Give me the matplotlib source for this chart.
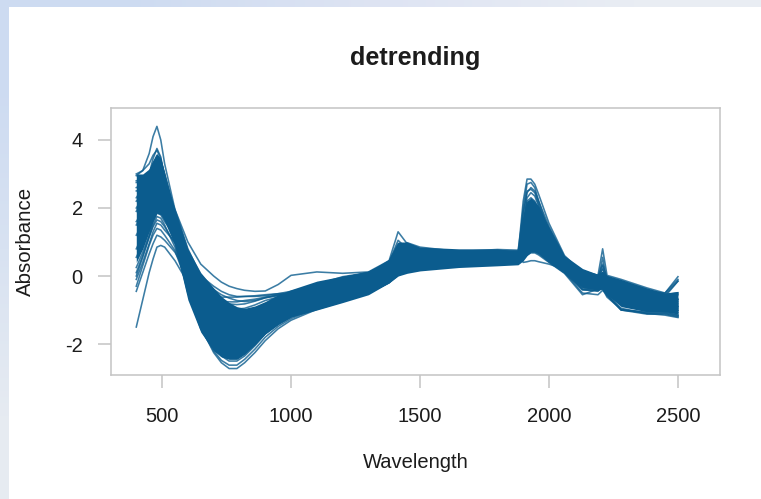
# -*- coding: utf-8 -*-
# detrended NIR spectra, redrawn from the picture
import matplotlib
matplotlib.use('Agg')
import matplotlib.pyplot as plt
import numpy as np

wavelength = [400, 425, 450, 465, 480, 495, 510,
              550, 600, 650, 700, 730, 760, 790, 820, 860, 900, 950, 1000, 1100, 1200,
              1300, 1380, 1415, 1450, 1500, 1650, 1800,
              1880, 1900, 1915, 1930, 1945, 1960, 2000,
              2060, 2130, 2190, 2208, 2225, 2280, 2380, 2450, 2500]

# the bulk of the spectra is too dense to read one by one: only its edges
core_high = [3.0, 3.0, 3.15, 3.4, 3.6, 3.45, 3.05,
             1.95, 0.8, 0.1, -0.35, -0.6, -0.78, -0.9, -0.95, -0.88, -0.75, -0.55, -0.4, -0.15, 0.0,
             0.12, 0.5, 1.0, 1.0, 0.85, 0.8, 0.8,
             0.72, 1.75, 2.2, 2.3, 2.2, 2.05, 1.45,
             0.6, 0.22, 0.05, 0.1, 0.02, -0.1, -0.35, -0.5, -0.45]
core_low = [0.4, 0.8, 1.3, 1.6, 1.85, 1.8, 1.6,
            0.9, -0.7, -1.65, -2.2, -2.38, -2.45, -2.45, -2.3, -2.02, -1.7, -1.42, -1.2, -1.0, -0.78,
            -0.55, -0.2, 0.0, 0.08, 0.15, 0.25, 0.3,
            0.33, 0.45, 0.6, 0.7, 0.7, 0.65, 0.42,
            0.12, -0.35, -0.4, -0.38, -0.55, -0.9, -1.05, -1.05, -1.12]

# spectra that stand out from the bulk
spectra = [
    [2.95, 3.1, 3.6, 4.1, 4.4, 4.0, 3.3,
     1.95, 0.8, 0.0, -0.5, -0.8, -0.98, -1.08, -1.1, -1.0, -0.82, -0.65, -0.5, -0.25, -0.02,
     0.1, 0.42, 0.9, 0.7, 0.6, 0.6, 0.62,
     0.62, 2.2, 2.85, 2.85, 2.7, 2.4, 1.55,
     0.6, 0.1, 0.0, 0.02, -0.02, -0.2, -0.42, -0.55, -0.55],
    [1.6, 1.9, 2.4, 2.8, 3.1, 3.0, 2.75,
     1.95, 1.0, 0.35, 0.0, -0.18, -0.3, -0.37, -0.42, -0.45, -0.44, -0.25, 0.02, 0.12, 0.08,
     0.12, 0.45, 1.3, 0.95, 0.75, 0.72, 0.78,
     0.76, 1.0, 1.6, 1.85, 1.75, 1.5, 1.0,
     0.5, 0.15, 0.02, 0.8, 0.02, -0.1, -0.35, -0.5, -0.1],
    [-1.5, -0.7, 0.1, 0.5, 0.85, 0.9, 0.85,
     0.45, -0.2, -0.55, -0.6, -0.62, -0.62, -0.62, -0.6, -0.58, -0.55, -0.52, -0.5, -0.35, -0.12,
     0.02, 0.25, 0.42, 0.5, 0.55, 0.6, 0.65,
     0.7, 0.4, 0.42, 0.45, 0.45, 0.42, 0.35,
     0.2, -0.15, -0.25, -0.2, -0.4, -0.7, -0.85, -0.9, -0.9],
    [-0.45, 0.1, 0.65, 0.95, 1.2, 1.15, 1.05,
     0.7, 0.0, -0.45, -0.7, -0.74, -0.76, -0.76, -0.72, -0.68, -0.62, -0.55, -0.5, -0.3, -0.1,
     0.05, 0.28, 0.48, 0.52, 0.55, 0.6, 0.65,
     0.7, 0.55, 0.7, 0.8, 0.78, 0.7, 0.42,
     0.1, -0.4, -0.45, -0.3, -0.5, -0.85, -0.95, -1.0, -0.9],
    [-0.1, 0.4, 0.95, 1.3, 1.55, 1.5, 1.35,
     1.0, 0.25, -0.35, -0.7, -0.86, -0.95, -0.97, -0.95, -0.85, -0.72, -0.62, -0.55, -0.35, -0.12,
     0.05, 0.3, 0.6, 0.62, 0.6, 0.65, 0.68,
     0.68, 0.7, 0.95, 1.05, 1.0, 0.9, 0.55,
     0.12, -0.5, -0.55, -0.42, -0.55, -1.0, -1.05, -1.05, -1.0],
    [0.25, 0.7, 1.2, 1.6, 1.85, 1.8, 1.6,
     1.2, 0.35, -0.25, -0.62, -0.74, -0.82, -0.84, -0.82, -0.74, -0.64, -0.58, -0.55, -0.35, -0.1,
     0.08, 0.35, 0.7, 0.72, 0.66, 0.68, 0.7,
     0.7, 0.9, 1.35, 1.5, 1.45, 1.3, 0.85,
     0.3, -0.1, -0.2, 0.55, -0.2, -0.5, -0.75, -0.85, -0.7],
    [0.55, 0.95, 1.4, 1.8, 2.05, 2.0, 1.8,
     1.1, -0.1, -1.05, -1.75, -2.0, -2.15, -2.18, -2.1, -1.85, -1.55, -1.32, -1.15, -0.9, -0.68,
     -0.45, -0.15, 0.1, 0.2, 0.3, 0.42, 0.45,
     0.45, 0.6, 0.85, 0.95, 0.92, 0.85, 0.55,
     0.2, -0.4, -0.42, -0.38, -0.62, -0.98, -1.1, -1.15, -1.22],
    [1.9, 2.3, 2.8, 3.2, 3.45, 3.3, 2.8,
     1.3, -0.35, -1.5, -2.25, -2.55, -2.72, -2.72, -2.55, -2.25, -1.9, -1.55, -1.3, -0.98, -0.75,
     -0.5, -0.2, 0.08, 0.15, 0.2, 0.32, 0.38,
     0.4, 1.6, 2.2, 2.3, 2.2, 1.9, 1.1,
     0.35, -0.15, -0.25, 0.3, -0.3, -0.8, -1.0, -1.05, -1.15],
    [2.3, 2.6, 3.0, 3.45, 3.75, 3.5, 2.9,
     1.2, -0.45, -1.55, -2.2, -2.48, -2.62, -2.62, -2.45, -2.15, -1.8, -1.48, -1.25, -0.95, -0.72,
     -0.5, -0.15, 0.15, 0.2, 0.25, 0.4, 0.42,
     0.45, 2.0, 2.7, 2.75, 2.6, 2.2, 1.3,
     0.45, 0.0, -0.1, 0.0, -0.15, -0.7, -0.95, -1.0, -1.08],
    [3.0, 3.1, 3.3, 3.55, 3.7, 3.45, 2.9,
     1.05, -0.5, -1.45, -2.1, -2.35, -2.5, -2.5, -2.35, -2.05, -1.7, -1.42, -1.2, -0.92, -0.7,
     -0.48, -0.12, 0.12, 0.18, 0.25, 0.38, 0.42,
     0.42, 1.8, 2.5, 2.55, 2.45, 2.1, 1.25,
     0.4, -0.05, -0.12, 0.1, -0.2, -0.75, -0.98, -1.0, -1.02],
    [1.5, 1.85, 2.3, 2.7, 2.95, 2.85, 2.6,
     1.75, 0.7, 0.0, -0.4, -0.55, -0.65, -0.72, -0.75, -0.72, -0.64, -0.56, -0.5, -0.28, -0.05,
     0.1, 0.38, 0.8, 0.98, 0.85, 0.72, 0.75,
     0.72, 0.85, 1.2, 1.3, 1.25, 1.15, 0.75,
     0.35, 0.05, -0.05, 0.1, -0.05, -0.2, -0.45, -0.5, -0.02],
    [2.6, 2.7, 2.9, 3.1, 3.3, 3.2, 2.85,
     1.7, 0.55, -0.15, -0.55, -0.78, -0.95, -1.1, -1.2, -1.15, -1.0, -0.82, -0.68, -0.35, -0.08,
     0.1, 0.4, 1.05, 0.8, 0.68, 0.66, 0.7,
     0.66, 0.9, 1.5, 1.7, 1.65, 1.5, 1.05,
     0.45, 0.05, 0.0, 0.35, -0.05, -0.2, -0.48, -0.6, -0.15],
    [2.8, 2.85, 3.05, 3.3, 3.5, 3.35, 2.95,
     1.5, 0.1, -0.9, -1.6, -1.85, -2.0, -2.02, -1.95, -1.72, -1.45, -1.18, -0.95, -0.6, -0.3,
     -0.05, 0.25, 0.55, 0.6, 0.55, 0.55, 0.58,
     0.58, 1.55, 2.15, 2.2, 2.1, 1.9, 1.2,
     0.4, -0.05, -0.1, 0.0, -0.15, -0.55, -0.75, -0.85, -0.8],
    [0.0, 0.55, 1.15, 1.5, 1.75, 1.7, 1.5,
     0.85, -0.3, -1.2, -1.85, -2.1, -2.25, -2.28, -2.2, -1.95, -1.65, -1.4, -1.2, -0.95, -0.72,
     -0.5, -0.2, 0.02, 0.12, 0.18, 0.3, 0.34,
     0.36, 0.5, 0.62, 0.68, 0.68, 0.62, 0.4,
     0.08, -0.55, -0.38, -0.36, -0.55, -1.0, -1.12, -1.12, -1.2],
    [2.0, 2.3, 2.7, 3.05, 3.25, 3.1, 2.65,
     1.55, 0.3, -0.6, -1.15, -1.35, -1.5, -1.55, -1.5, -1.32, -1.1, -0.9, -0.75, -0.42, -0.15,
     0.02, 0.3, 0.6, 0.6, 0.55, 0.55, 0.55,
     0.55, 0.7, 1.05, 1.15, 1.1, 1.0, 0.6,
     0.25, -0.1, -0.15, -0.12, -0.25, -0.45, -0.65, -0.75, -0.75],
    [1.2, 1.55, 2.0, 2.3, 2.5, 2.4, 2.1,
     1.4, 0.5, -0.3, -0.8, -1.02, -1.2, -1.28, -1.3, -1.18, -1.0, -0.85, -0.72, -0.45, -0.2,
     -0.02, 0.25, 0.5, 0.55, 0.5, 0.52, 0.55,
     0.52, 0.62, 0.8, 0.88, 0.85, 0.8, 0.5,
     0.2, -0.2, -0.25, -0.2, -0.35, -0.7, -0.88, -0.92, -0.95],
    [0.8, 1.2, 1.7, 2.05, 2.25, 2.15, 1.95,
     1.35, 0.55, 0.0, -0.3, -0.45, -0.55, -0.6, -0.6, -0.6, -0.58, -0.52, -0.45, -0.28, -0.08,
     0.06, 0.32, 0.62, 0.7, 0.68, 0.7, 0.72,
     0.7, 0.78, 1.0, 1.1, 1.05, 0.95, 0.6,
     0.22, -0.05, -0.15, -0.08, -0.2, -0.45, -0.62, -0.7, -0.68],
    [2.2, 2.45, 2.8, 3.1, 3.3, 3.15, 2.75,
     1.6, 0.2, -0.8, -1.5, -1.75, -1.95, -2.02, -2.0, -1.78, -1.5, -1.25, -1.05, -0.7, -0.42,
     -0.2, 0.12, 0.4, 0.45, 0.4, 0.45, 0.48,
     0.48, 1.5, 2.3, 2.45, 2.35, 2.05, 1.25,
     0.42, 0.0, -0.08, 0.05, -0.12, -0.55, -0.8, -0.88, -0.85],
    [-0.3, 0.3, 0.9, 1.2, 1.4, 1.35, 1.2,
     0.75, -0.3, -1.1, -1.7, -1.95, -2.1, -2.12, -2.05, -1.8, -1.55, -1.3, -1.12, -0.9, -0.68,
     -0.45, -0.15, 0.1, 0.18, 0.25, 0.35, 0.38,
     0.4, 0.55, 0.65, 0.72, 0.72, 0.66, 0.42,
     0.1, -0.35, -0.4, -0.35, -0.55, -0.95, -1.1, -1.1, -1.18],
    [0.1, 0.6, 1.15, 1.45, 1.65, 1.6, 1.45,
     0.95, -0.4, -1.4, -2.05, -2.3, -2.42, -2.42, -2.28, -2.0, -1.7, -1.42, -1.2, -0.95, -0.72,
     -0.5, -0.18, 0.05, 0.12, 0.2, 0.32, 0.36,
     0.38, 0.6, 0.8, 0.9, 0.88, 0.8, 0.5,
     0.15, -0.4, -0.42, -0.35, -0.58, -1.0, -1.08, -1.08, -1.15],
    [2.75, 2.8, 3.0, 3.3, 3.55, 3.4, 3.0,
     1.8, 0.5, -0.4, -1.0, -1.3, -1.5, -1.58, -1.55, -1.35, -1.1, -0.85, -0.65, -0.3, -0.05,
     0.1, 0.42, 0.95, 0.85, 0.75, 0.72, 0.74,
     0.74, 1.85, 2.45, 2.6, 2.5, 2.2, 1.45,
     0.55, 0.12, 0.02, 0.1, -0.05, -0.22, -0.45, -0.55, -0.5],
    [2.5, 2.6, 2.85, 3.1, 3.35, 3.2, 2.8,
     1.5, 0.25, -0.7, -1.3, -1.6, -1.78, -1.82, -1.75, -1.5, -1.2, -0.95, -0.75, -0.4, -0.12,
     0.05, 0.32, 0.72, 0.72, 0.65, 0.62, 0.65,
     0.62, 0.9, 1.25, 1.4, 1.35, 1.25, 0.8,
     0.38, 0.08, -0.02, 0.2, -0.08, -0.22, -0.48, -0.55, -0.15],
]

x_ticks = [500, 1000, 1500, 2000, 2500]
y_ticks = [-2, 0, 2, 4]

plt.rcParams['font.family'] = ['Liberation Sans', 'DejaVu Sans']
plt.rcParams['text.color'] = '#1c1c1c'
plt.rcParams['xtick.labelcolor'] = '#1c1c1c'
plt.rcParams['ytick.labelcolor'] = '#1c1c1c'

fig = plt.figure(figsize=(7.61, 4.99), dpi=100)

# pale slide edges behind the plot
top_bar = fig.add_axes([0, 1 - 7 / 499, 1, 7 / 499])
top_bar.axis('off')
top_bar.imshow(np.array([[[205, 219, 241], [222, 228, 243], [233, 237, 243]]], dtype=np.uint8),
               aspect='auto', interpolation='bilinear')
left_bar = fig.add_axes([0, 0, 9 / 761, 1])
left_bar.axis('off')
left_bar.imshow(np.array([[[205, 219, 241]], [[216, 226, 242]], [[230, 235, 241]]], dtype=np.uint8),
                aspect='auto', interpolation='bilinear')

ax = fig.add_axes([111 / 761, 1 - 375 / 499, 609 / 761, 267 / 499])
line_color = '#0b5c8e'
ax.fill_between(wavelength, core_low, core_high, color=line_color, lw=0)
for spectrum in spectra:
    ax.plot(wavelength, spectrum, color=line_color, lw=1.15, alpha=0.8)

ax.set_xlim(302, 2663)
ax.set_ylim(-2.91, 4.94)
ax.set_xticks(x_ticks)
ax.set_yticks(y_ticks)
ax.set_yticklabels([str(v) for v in y_ticks])
ax.tick_params(length=9.4, width=1.1, color='#c4c4c4', labelsize=14.5)
ax.tick_params(axis='x', pad=14)
ax.tick_params(axis='y', pad=11)
for spine in ax.spines.values():
    spine.set_color('#c4c4c4')
    spine.set_linewidth(1.1)

fig.text(415 / 761, 1 - 58 / 499, 'detrending', fontsize=18.2, fontweight='bold', ha='center', va='center')
fig.text(416 / 761, 1 - 463 / 499, 'Wavelength', fontsize=14.5, ha='center', va='center')
fig.text(25 / 761, 1 - 241 / 499, 'Absorbance', fontsize=14.7, ha='center', va='center', rotation=90)

fig.savefig('out.png', dpi=100)
